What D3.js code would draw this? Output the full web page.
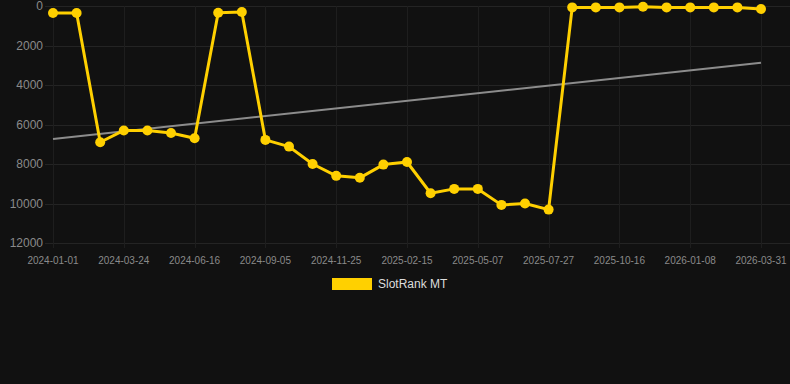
<!DOCTYPE html>
<html>
<head>
<meta charset="utf-8">
<script src="https://cdn.jsdelivr.net/npm/d3@7"></script>
<style>
  body { margin: 0; background: #111111; }
  svg { display: block; }
</style>
</head>
<body>
<div id="chart"></div>
<script>
// dates of each ranking snapshot (only every third one is labelled)
let dates = [
  '2024-01-01','2024-01-28','2024-02-25','2024-03-24','2024-04-21','2024-05-19',
  '2024-06-16','2024-07-14','2024-08-10','2024-09-05','2024-10-02','2024-10-29',
  '2024-11-25','2024-12-23','2025-01-19','2025-02-15','2025-03-14','2025-04-10',
  '2025-05-07','2025-06-03','2025-06-30','2025-07-27','2025-08-23','2025-09-19',
  '2025-10-16','2025-11-13','2025-12-11','2026-01-08','2026-02-04','2026-03-03',
  '2026-03-31'
];
let ranks = [
  350, 350, 6900, 6300, 6300, 6430, 6700, 340, 300, 6780, 7120, 8000,
  8600, 8700, 8030, 7900, 9480, 9260, 9260, 10070, 10000, 10310, 70, 70,
  70, 35, 70, 70, 70, 70, 150
];
let trend = [6730, 2870]; // trend line value at first and last date
let yTicks = [0, 2000, 4000, 6000, 8000, 10000, 12000];
let seriesName = 'SlotRank MT';

let width = 790, height = 384;
let plotLeft = 53, plotRight = 761, plotTop = 6, plotBottom = 243;

let svg = d3.select('#chart').append('svg')
  .attr('width', width).attr('height', height);

svg.append('rect').attr('width', width).attr('height', height).attr('fill', '#111111');

let x = d3.scalePoint().domain(dates).range([plotLeft, plotRight]);
let y = d3.scaleLinear().domain([0, 12000]).range([plotTop, plotBottom]);

// horizontal grid
svg.append('g').selectAll('line').data(yTicks).join('line')
  .attr('x1', 45).attr('x2', width)
  .attr('y1', d => Math.round(y(d)) + 0.5).attr('y2', d => Math.round(y(d)) + 0.5)
  .attr('stroke', '#242424').attr('stroke-width', 1);

// vertical grid at labelled dates
let labelled = dates.filter((d, i) => i % 3 === 0);
svg.append('g').selectAll('line').data(labelled).join('line')
  .attr('x1', d => Math.round(x(d)) + 0.5).attr('x2', d => Math.round(x(d)) + 0.5)
  .attr('y1', plotTop).attr('y2', plotBottom + 5)
  .attr('stroke', '#1e1e1e').attr('stroke-width', 1);

// y labels
svg.append('g').selectAll('text').data(yTicks).join('text')
  .attr('x', 43).attr('y', d => y(d))
  .attr('dy', '0.35em')
  .attr('text-anchor', 'end')
  .attr('font-family', 'Liberation Sans, Arial, sans-serif')
  .attr('font-size', 12)
  .attr('fill', '#8a8a8a')
  .text(d => d);

// x labels
svg.append('g').selectAll('text').data(labelled).join('text')
  .attr('x', d => x(d)).attr('y', 260)
  .attr('dy', '0.35em')
  .attr('text-anchor', 'middle')
  .attr('font-family', 'Liberation Sans, Arial, sans-serif')
  .attr('font-size', 10)
  .attr('fill', '#8a8a8a')
  .text(d => d);

// trend line
svg.append('line')
  .attr('x1', x(dates[0])).attr('y1', y(trend[0]))
  .attr('x2', x(dates[dates.length - 1])).attr('y2', y(trend[1]))
  .attr('stroke', '#8c8c8c').attr('stroke-width', 2);

let line = d3.line()
  .x((d, i) => x(dates[i]))
  .y(d => y(d));

svg.append('path')
  .attr('d', line(ranks))
  .attr('fill', 'none')
  .attr('stroke', '#ffd000')
  .attr('stroke-width', 3)
  .attr('stroke-linejoin', 'round');

svg.append('g').selectAll('circle').data(ranks).join('circle')
  .attr('cx', (d, i) => x(dates[i]))
  .attr('cy', d => y(d))
  .attr('r', 5)
  .attr('fill', '#ffd000');

// legend
svg.append('rect')
  .attr('x', 332).attr('y', 278).attr('width', 40).attr('height', 12)
  .attr('fill', '#ffd000');
svg.append('text')
  .attr('x', 378).attr('y', 284).attr('dy', '0.35em')
  .attr('font-family', 'Liberation Sans, Arial, sans-serif')
  .attr('font-size', 12)
  .attr('fill', '#dddddd')
  .text(seriesName);
</script>
</body>
</html>
